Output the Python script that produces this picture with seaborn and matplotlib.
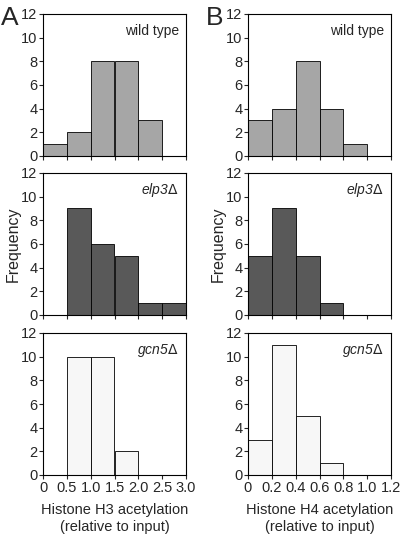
import matplotlib
matplotlib.use('Agg')
import matplotlib.pyplot as plt
import numpy as np
import seaborn as sns

sns.set_style('ticks')
plt.rcParams['font.family'] = ['Liberation Sans', 'DejaVu Sans']

# bin edges for the two panels
edges_h3 = [0.0, 0.5, 1.0, 1.5, 2.0, 2.5, 3.0]
edges_h4 = [0.0, 0.2, 0.4, 0.6, 0.8, 1.0, 1.2]

# counts per bin
h3_wt = [1, 2, 8, 8, 3, 0]
h3_elp3 = [0, 9, 6, 5, 1, 1]
h3_gcn5 = [0, 10, 10, 2, 0, 0]
h4_wt = [3, 4, 8, 4, 1, 0]
h4_elp3 = [5, 9, 5, 1, 0, 0]
h4_gcn5 = [3, 11, 5, 1, 0, 0]

strains = ['wild type', 'elp3$\\Delta$', 'gcn5$\\Delta$']
strain_style = ['normal', 'italic', 'italic']
fill_colors = ['#a6a6a6', '#595959', '#f7f7f7']

h3_tick_labels = ['0', '0.5', '1.0', '1.5', '2.0', '2.5', '3.0']
h4_tick_labels = ['0', '0.2', '0.4', '0.6', '0.8', '1.0', '1.2']

fig = plt.figure(figsize=(4.0, 5.35), dpi=100)
W, H = 400, 535
lefts = [43, 248]
width = 143
tops = [14, 173, 333]
height = 142

columns = [
    (edges_h3, [h3_wt, h3_elp3, h3_gcn5], h3_tick_labels,
     'Histone H3 acetylation\n(relative to input)', 'A'),
    (edges_h4, [h4_wt, h4_elp3, h4_gcn5], h4_tick_labels,
     'Histone H4 acetylation\n(relative to input)', 'B'),
]

for c, (edges, series, ticklabels, xlabel, letter) in enumerate(columns):
    centers = (np.array(edges[:-1]) + np.array(edges[1:])) / 2
    for r, counts in enumerate(series):
        ax = fig.add_axes([lefts[c] / W, 1 - (tops[r] + height) / H,
                           width / W, height / H])
        sns.histplot(x=centers, weights=counts, bins=edges, ax=ax,
                     color=fill_colors[r], edgecolor='black', linewidth=0.6,
                     alpha=1)
        ax.set_xlim(edges[0], edges[-1])
        ax.set_ylim(0, 12)
        ax.set_yticks(range(0, 13, 2))
        ax.set_xticks(edges)
        for s in ax.spines.values():
            s.set_linewidth(0.8)
            s.set_color('black')
        ax.tick_params(direction='out', length=3, width=0.8, labelsize=10.5,
                       pad=1)
        if r == 2:
            ax.set_xticklabels(ticklabels)
            ax.set_xlabel(xlabel, fontsize=10.5, labelpad=6, linespacing=1.25)
        else:
            ax.set_xticklabels([])
            ax.set_xlabel('')
        if r == 1:
            ax.set_ylabel('Frequency', fontsize=11.5, labelpad=0)
        else:
            ax.set_ylabel('')
        ax.text(0.95, 0.88, strains[r], transform=ax.transAxes,
                ha='right', va='center', fontsize=10,
                style=strain_style[r])
        if r == 0:
            fig.text((lefts[c] - 43) / W + 0.002, 1 - 18 / H, letter,
                     fontsize=19, ha='left', va='center')

fig.savefig('out.png', dpi=100)
